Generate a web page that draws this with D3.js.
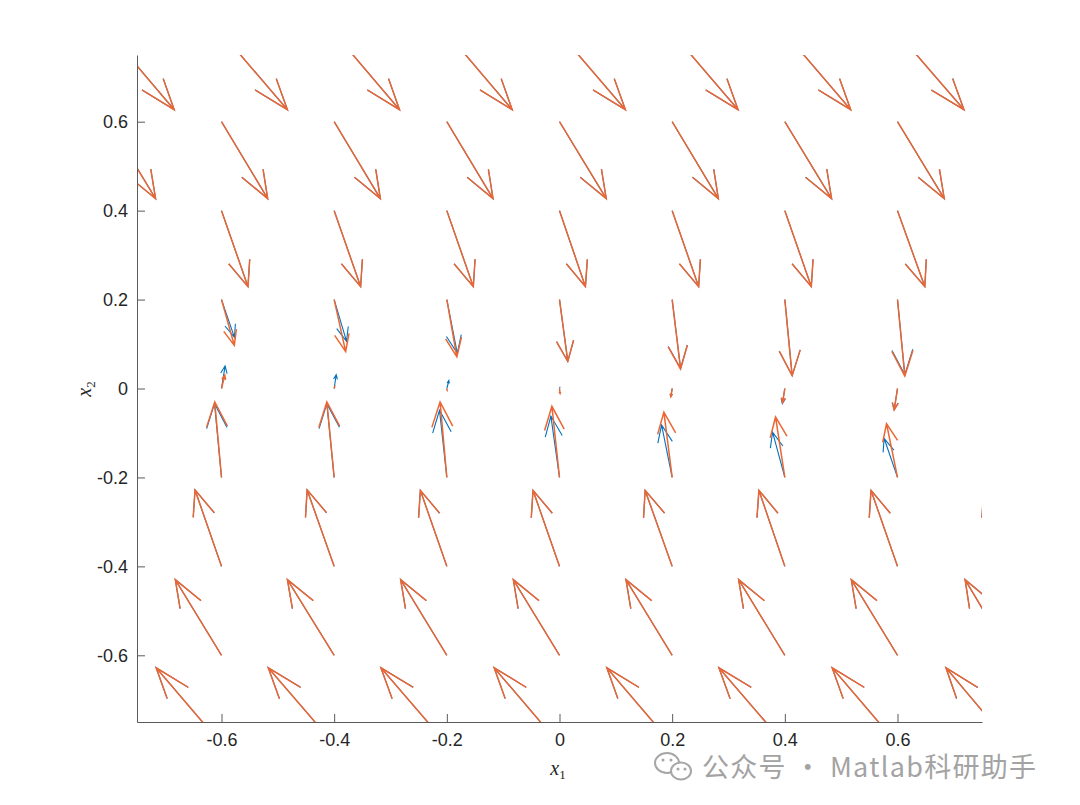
<!DOCTYPE html>
<html>
<head>
<meta charset="utf-8">
<script src="https://cdn.jsdelivr.net/npm/d3@7"></script>
<style>
  body { margin: 0; background: #fff; }
  svg { display: block; }
</style>
</head>
<body>
<div id="chart"></div>
<script>
// grid of the quiver (x1 across, x2 down the rows, from -0.8 to 0.8)
var x1Grid = [-0.8, -0.6, -0.4, -0.2, 0, 0.2, 0.4, 0.6, 0.8];
var x2Grid = [-0.8, -0.6, -0.4, -0.2, 0, 0.2, 0.4, 0.6, 0.8];

// orange field (drawn vector components, one row per x2 value)
var uOrange = [
  [-0.116, -0.116, -0.117, -0.117, -0.116, -0.116, -0.117, -0.116, -0.114],
  [-0.082, -0.082, -0.083, -0.082, -0.082, -0.082, -0.082, -0.082, -0.080],
  [-0.047, -0.047, -0.048, -0.047, -0.047, -0.048, -0.046, -0.047, -0.047],
  [-0.012, -0.012, -0.013, -0.012, -0.0135, -0.0147, -0.0165, -0.0195, -0.021],
  [0.006, 0.0059, 0.001, 0.0005, 0.001, -0.0023, -0.004, -0.0059, -0.007],
  [0.024, 0.0227, 0.0204, 0.0178, 0.0147, 0.0149, 0.013, 0.013, 0.0124],
  [0.047, 0.047, 0.047, 0.047, 0.046, 0.047, 0.047, 0.0485, 0.047],
  [0.083, 0.082, 0.082, 0.082, 0.083, 0.082, 0.083, 0.083, 0.083],
  [0.116, 0.117, 0.116, 0.116, 0.117, 0.117, 0.117, 0.118, 0.117]
];
var vOrange = [
  [0.172, 0.172, 0.172, 0.172, 0.172, 0.172, 0.172, 0.172, 0.172],
  [0.170, 0.170, 0.170, 0.170, 0.170, 0.170, 0.170, 0.170, 0.170],
  [0.172, 0.172, 0.172, 0.171, 0.171, 0.171, 0.171, 0.171, 0.171],
  [0.170, 0.170, 0.170, 0.170, 0.160, 0.147, 0.136, 0.121, 0.112],
  [0.036, 0.030, 0.004, -0.004, -0.011, -0.018, -0.0315, -0.048, -0.063],
  [-0.094, -0.103, -0.117, -0.129, -0.139, -0.156, -0.171, -0.172, -0.173],
  [-0.171, -0.171, -0.171, -0.171, -0.171, -0.171, -0.171, -0.171, -0.171],
  [-0.173, -0.173, -0.173, -0.173, -0.173, -0.173, -0.173, -0.173, -0.173],
  [-0.173, -0.173, -0.173, -0.173, -0.173, -0.173, -0.173, -0.173, -0.173]
];

// blue field
var uBlue = [
  [-0.116, -0.116, -0.117, -0.117, -0.116, -0.116, -0.117, -0.116, -0.114],
  [-0.082, -0.082, -0.083, -0.082, -0.082, -0.082, -0.082, -0.082, -0.080],
  [-0.047, -0.047, -0.048, -0.047, -0.047, -0.048, -0.046, -0.047, -0.047],
  [-0.0124, -0.0124, -0.013, -0.013, -0.0153, -0.0188, -0.0218, -0.0238, -0.025],
  [0.007, 0.0064, 0.0036, 0.0036, 0.0005, -0.0023, -0.0044, -0.0059, -0.007],
  [0.025, 0.023, 0.022, 0.0186, 0.0147, 0.0149, 0.013, 0.013, 0.0124],
  [0.047, 0.047, 0.047, 0.047, 0.046, 0.047, 0.047, 0.0485, 0.047],
  [0.083, 0.082, 0.082, 0.082, 0.083, 0.082, 0.083, 0.083, 0.083],
  [0.116, 0.117, 0.116, 0.116, 0.117, 0.117, 0.117, 0.118, 0.117]
];
var vBlue = [
  [0.172, 0.172, 0.172, 0.172, 0.172, 0.172, 0.172, 0.172, 0.172],
  [0.170, 0.170, 0.170, 0.170, 0.170, 0.170, 0.170, 0.170, 0.170],
  [0.172, 0.172, 0.172, 0.171, 0.171, 0.171, 0.171, 0.171, 0.171],
  [0.170, 0.166, 0.166, 0.151, 0.138, 0.118, 0.102, 0.088, 0.076],
  [0.063, 0.051, 0.031, 0.018, 0.002, -0.018, -0.034, -0.048, -0.063],
  [-0.076, -0.085, -0.094, -0.121, -0.139, -0.155, -0.171, -0.169, -0.170],
  [-0.171, -0.171, -0.171, -0.171, -0.171, -0.171, -0.171, -0.171, -0.171],
  [-0.173, -0.173, -0.173, -0.173, -0.173, -0.173, -0.173, -0.173, -0.173],
  [-0.173, -0.173, -0.173, -0.173, -0.173, -0.173, -0.173, -0.173, -0.173]
];

var xTicks = [-0.6, -0.4, -0.2, 0, 0.2, 0.4, 0.6];
var yTicks = [-0.6, -0.4, -0.2, 0, 0.2, 0.4, 0.6];

var width = 1080, height = 805;
var plotLeft = 137, plotRight = 982, plotTop = 55, plotBottom = 722;

var svg = d3.select("#chart").append("svg")
  .attr("width", width)
  .attr("height", height);

var x = d3.scaleLinear().domain([-0.75, 0.75]).range([plotLeft, plotRight]);
var y = d3.scaleLinear().domain([-0.75, 0.75]).range([plotBottom, plotTop]);

svg.append("clipPath").attr("id", "plotClip")
  .append("rect")
  .attr("x", plotLeft).attr("y", plotTop)
  .attr("width", plotRight - plotLeft).attr("height", plotBottom - plotTop);

// build the arrow path like matlab quiver does (shaft + two head barbs)
function arrowPath(x0, y0, u, v) {
  var alpha = 0.33, beta = 0.33;
  var tx = x0 + u, ty = y0 + v;
  var h1x = tx - alpha * (u + beta * v), h1y = ty - alpha * (v - beta * u);
  var h2x = tx - alpha * (u - beta * v), h2y = ty - alpha * (v + beta * u);
  return "M" + x(x0) + "," + y(y0) + "L" + x(tx) + "," + y(ty) +
    "M" + x(h1x) + "," + y(h1y) + "L" + x(tx) + "," + y(ty) + "L" + x(h2x) + "," + y(h2y);
}

function fieldData(U, V) {
  var out = [];
  x2Grid.forEach(function(yv, r) {
    x1Grid.forEach(function(xv, c) {
      out.push({x: xv, y: yv, u: U[r][c], v: V[r][c]});
    });
  });
  return out;
}

var plot = svg.append("g").attr("clip-path", "url(#plotClip)");

//Blue arrows first, orange on top (a bit wider so it hides the blue where they agree).
plot.selectAll("path.blue").data(fieldData(uBlue, vBlue)).enter()
  .append("path").attr("class", "blue")
  .attr("d", function(d) { return arrowPath(d.x, d.y, d.u, d.v); })
  .attr("fill", "none")
  .attr("stroke", "#0072BD")
  .attr("stroke-width", 1.1);

plot.selectAll("path.orange").data(fieldData(uOrange, vOrange)).enter()
  .append("path").attr("class", "orange")
  .attr("d", function(d) { return arrowPath(d.x, d.y, d.u, d.v); })
  .attr("fill", "none")
  .attr("stroke", "#EC6633")
  .attr("stroke-width", 1.5);

// axes
var fmt = function(d) { return d === 0 ? "0" : d.toFixed(1); };

var yAxis = svg.append("g")
  .attr("transform", "translate(" + plotLeft + ",0)")
  .call(d3.axisLeft(y).tickValues(yTicks).tickFormat(fmt)
    .tickSizeInner(-8).tickSizeOuter(0).tickPadding(9));

var xAxis = svg.append("g")
  .attr("transform", "translate(0," + plotBottom + ")")
  .call(d3.axisBottom(x).tickValues(xTicks).tickFormat(fmt)
    .tickSizeInner(-8).tickSizeOuter(0).tickPadding(11));

[xAxis, yAxis].forEach(function(g) {
  g.selectAll("path.domain").attr("stroke", "#5a5a5a").attr("stroke-width", 1);
  g.selectAll(".tick line").attr("stroke", "#5a5a5a").attr("stroke-width", 1);
  g.selectAll(".tick text")
    .attr("fill", "#262626")
    .style("font-family", "'Liberation Sans', Arial, sans-serif")
    .style("font-size", "18px");
});

// axis labels (latex style)
var xl = svg.append("text")
  .attr("x", 558).attr("y", 775)
  .attr("text-anchor", "middle")
  .style("font-family", "'Liberation Serif', 'DejaVu Serif', serif")
  .style("font-size", "20px")
  .attr("fill", "#262626");
xl.append("tspan").style("font-style", "italic").text("x");
xl.append("tspan").attr("dy", 4).style("font-size", "13px").text("1");

var yl = svg.append("text")
  .attr("transform", "translate(91,389) rotate(-90)")
  .attr("text-anchor", "middle")
  .style("font-family", "'Liberation Serif', 'DejaVu Serif', serif")
  .style("font-size", "20px")
  .attr("fill", "#262626");
yl.append("tspan").style("font-style", "italic").text("x");
yl.append("tspan").attr("dy", 4).style("font-size", "13px").text("2");

// watermark
var wm = svg.append("g").attr("fill", "#fff").attr("stroke", "#a6a6a6").attr("stroke-width", 2);
wm.append("ellipse").attr("cx", 667).attr("cy", 763).attr("rx", 12).attr("ry", 10);
wm.append("ellipse").attr("cx", 681).attr("cy", 771).attr("rx", 10).attr("ry", 8.5);
svg.append("g").attr("fill", "#a6a6a6").selectAll("circle")
  .data([[663, 760], [671, 760], [678, 769], [685, 769]]).enter()
  .append("circle").attr("cx", function(d) { return d[0]; }).attr("cy", function(d) { return d[1]; }).attr("r", 1.5);

svg.append("text")
  .attr("x", 702).attr("y", 777)
  .style("font-family", "'Noto Sans CJK SC', 'Noto Sans', sans-serif")
  .style("font-size", "27px")
  .style("letter-spacing", "1.3px")
  .attr("fill", "#a3a3a3")
  .text("公众号 · Matlab科研助手");
</script>
</body>
</html>
